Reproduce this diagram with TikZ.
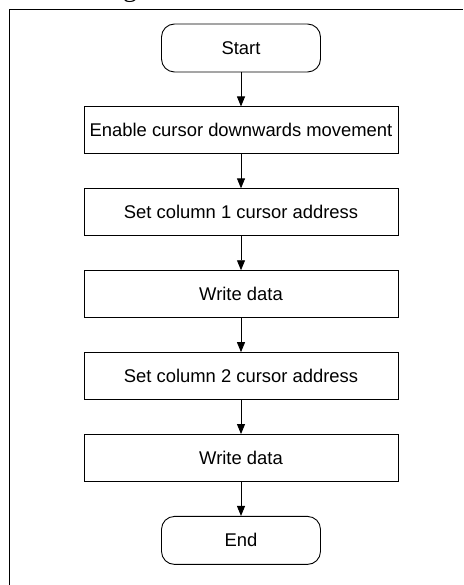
\documentclass[tikz,border=0pt]{standalone}
\usepackage{fontspec}
\setmainfont{Liberation Sans}
\newfontfamily\capfont{Liberation Serif}
\usetikzlibrary{arrows.meta, positioning}

\tikzset{
  procbox/.style={draw, line width=0.9pt, minimum width=314pt, minimum height=47pt, inner sep=0pt, font=\fontsize{18.4}{22}\selectfont},
  termbox/.style={draw, line width=0.9pt, rounded corners=13pt, minimum width=159pt, minimum height=48pt, inner sep=0pt, font=\fontsize{18.4}{22}\selectfont},
  flow/.style={-{Triangle[length=10pt, width=8pt]}, line width=0.9pt}
}

\begin{document}
\begin{tikzpicture}[x=1pt, y=-1pt, node distance=34pt]
    \useasboundingbox (0,0) rectangle (463,585);
    \clip (0,0) rectangle (463,585);

    % frame and cut-off caption
    \coordinate (fbl) at (9.5,585);
    \coordinate (ftl) at (9.5,9.5);
    \coordinate (ftr) at (463,9.5);
    \draw[line width=1pt] (fbl) -- (ftl) -- (ftr);
    \node[anchor=base, inner sep=0pt, font=\capfont\fontsize{28}{30}\selectfont] (capg) at (130,-3.5) {g};

    \node[termbox] (start) at (241,48) {Start};
    \node[procbox, below=of start] (enable) {Enable cursor downwards movement};
    \node[procbox, below=of enable] (col1) {Set column 1 cursor address};
    \node[procbox, below=of col1] (write1) {Write data};
    \node[procbox, below=of write1] (col2) {Set column 2 cursor address};
    \node[procbox, below=of col2] (write2) {Write data};
    \node[termbox, below=of write2] (end) {End};

    \draw[flow] (start) -- (enable);
    \draw[flow] (enable) -- (col1);
    \draw[flow] (col1) -- (write1);
    \draw[flow] (write1) -- (col2);
    \draw[flow] (col2) -- (write2);
    \draw[flow] (write2) -- (end);
\end{tikzpicture}
\end{document}
